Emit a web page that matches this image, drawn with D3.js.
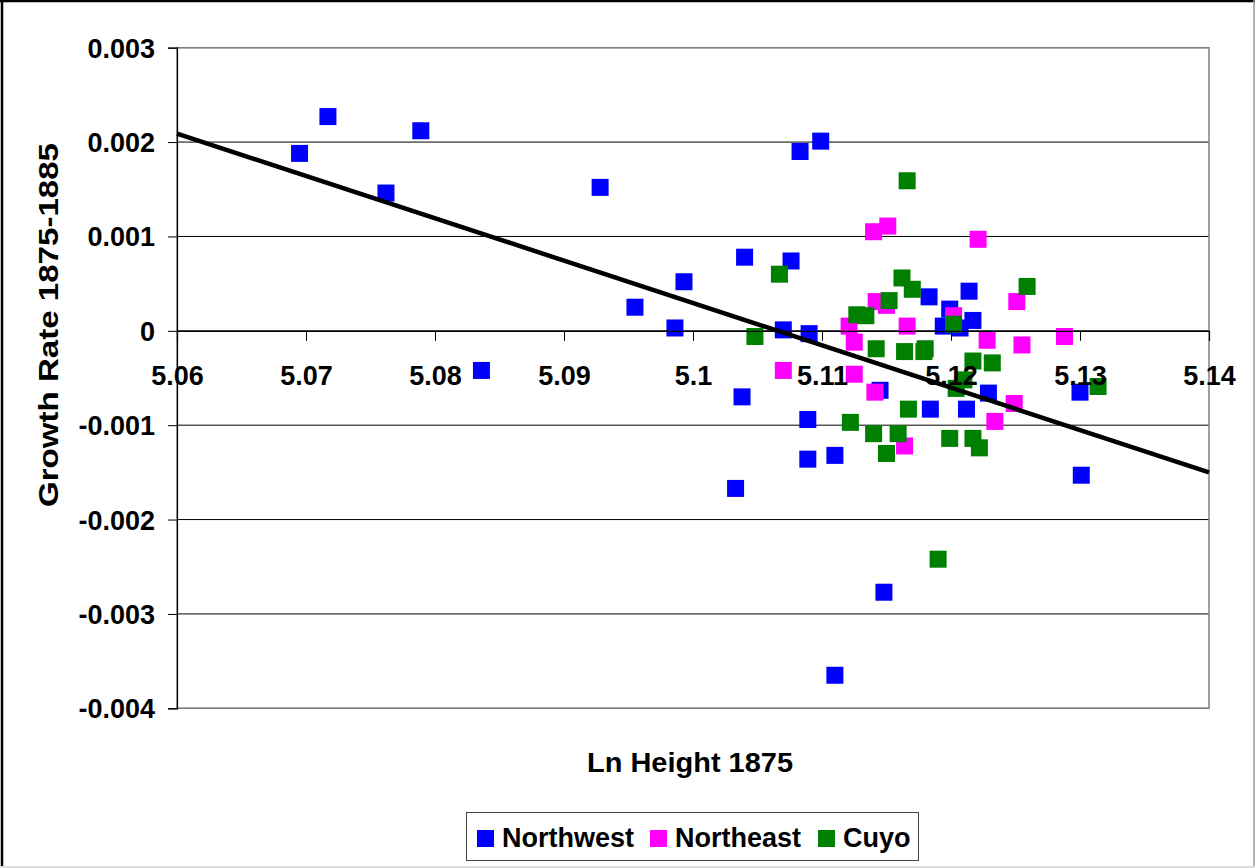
<!DOCTYPE html>
<html>
<head>
<meta charset="utf-8">
<script src="https://cdn.jsdelivr.net/npm/d3@7"></script>
<style>
  body { margin: 0; background: #fff; }
  text { font-family: "Liberation Sans", Arial, sans-serif; font-weight: bold; fill: #000; }
</style>
</head>
<body>
<div id="chart"></div>
<script>
// Ln height 1875 (x) and growth rate 1875-1885 (y)
var nwX = [5.0695, 5.0717, 5.0762, 5.0789, 5.0836, 5.0928, 5.0955, 5.0986, 5.0993, 5.1033,
           5.1038, 5.1040, 5.1070, 5.1076, 5.1083, 5.1089, 5.1089, 5.1090, 5.1099, 5.1110,
           5.1110, 5.1145, 5.1148, 5.1183, 5.1184, 5.1194, 5.1199, 5.1207, 5.1212, 5.1214,
           5.1217, 5.1229, 5.1300, 5.1301];
var nwY = [0.00188, 0.00227, 0.00146, 0.00212, -0.00042, 0.00152, 0.00025, 0.00003, 0.00052, -0.00167,
           -0.00070, 0.00078, 0.00001, 0.00074, 0.00190, -0.00094, -0.00136, -0.00003, 0.00201, -0.00365,
           -0.00132, -0.00063, -0.00277, 0.00036, -0.00083, 0.00005, 0.00023, 0.00003, -0.00083, 0.00042,
           0.00011, -0.00066, -0.00065, -0.00153];

var neX = [5.1070, 5.1121, 5.1125, 5.1125, 5.1140, 5.1141, 5.1142, 5.1150, 5.1151, 5.1164,
           5.1166, 5.1202, 5.1221, 5.1228, 5.1234, 5.1249, 5.1251, 5.1255, 5.1288];
var neY = [-0.00042, 0.00005, -0.00012, -0.00046, 0.00105, -0.00065, 0.00031, 0.00027, 0.00111, -0.00122,
           0.00005, 0.00016, 0.00097, -0.00010, -0.00096, -0.00077, 0.00031, -0.00015, -0.00006];

var cuX = [5.1048, 5.1067, 5.1122, 5.1127, 5.1134, 5.1140, 5.1142, 5.1150, 5.1152, 5.1159,
           5.1162, 5.1164, 5.1166, 5.1167, 5.1170, 5.1179, 5.1180, 5.1190, 5.1199, 5.1202,
           5.1204, 5.1210, 5.1217, 5.1217, 5.1222, 5.1232, 5.1259, 5.1314];
var cuY = [-0.00006, 0.00060, -0.00097, 0.00017, 0.00016, -0.00109, -0.00019, -0.00130, 0.00032, -0.00109,
           0.00056, -0.00022, 0.00159, -0.00083, 0.00044, -0.00022, -0.00019, -0.00242, -0.00114, 0.00007,
           -0.00061, -0.00052, -0.00032, -0.00114, -0.00124, -0.00034, 0.00047, -0.00059];

// linear trend line end points
var trendX = [5.06, 5.14];
var trendY = [0.00209, -0.00150];

var xTicks = [5.06, 5.07, 5.08, 5.09, 5.10, 5.11, 5.12, 5.13, 5.14];
var yTicks = [0.003, 0.002, 0.001, 0, -0.001, -0.002, -0.003, -0.004];

var seriesNames = ["Northwest", "Northeast", "Cuyo"];
var seriesColors = ["#0000ff", "#ff00ff", "#008000"];

var width = 1255, height = 868;
var plot = { left: 177, right: 1209, top: 47.7, bottom: 708.3 };

var svg = d3.select("#chart").append("svg")
  .attr("width", width)
  .attr("height", height);

svg.append("rect").attr("width", width).attr("height", height).attr("fill", "#fff");

// outer frame
svg.append("line").attr("x1", 0).attr("x2", width).attr("y1", 1).attr("y2", 1)
  .attr("stroke", "#000").attr("stroke-width", 2.5);
svg.append("line").attr("x1", 2).attr("x2", 2).attr("y1", 0).attr("y2", height)
  .attr("stroke", "#000").attr("stroke-width", 2.5);
svg.append("line").attr("x1", width - 1).attr("x2", width - 1).attr("y1", 0).attr("y2", height)
  .attr("stroke", "#999").attr("stroke-width", 1.5);
svg.append("line").attr("x1", 0).attr("x2", width).attr("y1", height - 1).attr("y2", height - 1)
  .attr("stroke", "#ddd").attr("stroke-width", 2);

var x = d3.scaleLinear().domain([5.06, 5.14]).range([plot.left, plot.right]);
var y = d3.scaleLinear().domain([-0.004, 0.003]).range([plot.bottom, plot.top]);

// gridlines
svg.append("g")
  .selectAll("line")
  .data(yTicks)
  .enter().append("line")
  .attr("x1", plot.left).attr("x2", plot.right)
  .attr("y1", function (d) { return y(d); })
  .attr("y2", function (d) { return y(d); })
  .attr("stroke", "#000")
  .attr("stroke-width", 1);

// plot border
svg.append("rect")
  .attr("x", plot.left).attr("y", plot.top)
  .attr("width", plot.right - plot.left).attr("height", plot.bottom - plot.top)
  .attr("fill", "none").attr("stroke", "#808080").attr("stroke-width", 1.5);

// y axis
var yAxis = svg.append("g")
  .attr("transform", "translate(" + plot.left + ",0)")
  .call(d3.axisLeft(y).tickValues(yTicks).tickSize(9).tickPadding(13)
    .tickFormat(function (d) { return d === 0 ? "0" : d.toFixed(3); }));
yAxis.select(".domain").attr("stroke", "#000").attr("stroke-width", 1.2);
yAxis.selectAll(".tick line").attr("stroke", "#000");
yAxis.selectAll("text")
  .style("font-size", "27px")
  .attr("dy", "0.35em")
  .attr("font-family", null);

// series markers
var series = [
  { name: seriesNames[0], color: seriesColors[0], xs: nwX, ys: nwY },
  { name: seriesNames[1], color: seriesColors[1], xs: neX, ys: neY },
  { name: seriesNames[2], color: seriesColors[2], xs: cuX, ys: cuY }
];
var ms = 17;
series.forEach(function (s) {
  var pts = s.xs.map(function (v, i) { return [v, s.ys[i]]; });
  svg.append("g")
    .selectAll("rect")
    .data(pts)
    .enter().append("rect")
    .attr("x", function (d) { return x(d[0]) - ms / 2; })
    .attr("y", function (d) { return y(d[1]) - ms / 2; })
    .attr("width", ms)
    .attr("height", ms)
    .attr("fill", s.color);
});

// trend line
svg.append("line")
  .attr("x1", x(trendX[0])).attr("y1", y(trendY[0]))
  .attr("x2", x(trendX[1])).attr("y2", y(trendY[1]))
  .attr("stroke", "#000")
  .attr("stroke-width", 4.5);

// x axis crossing at zero
var xAxis = svg.append("g")
  .attr("transform", "translate(0," + y(0) + ")")
  .call(d3.axisBottom(x).tickValues(xTicks).tickSize(10).tickPadding(25)
    .tickFormat(function (d) { return String(+d.toFixed(2)); }));
xAxis.select(".domain").attr("stroke", "#000").attr("stroke-width", 1.2);
xAxis.selectAll(".tick line").attr("stroke", "#000");
xAxis.selectAll("text")
  .style("font-size", "27px")
  .attr("font-family", null);

// axis titles
svg.append("text")
  .attr("x", 690)
  .attr("y", 772)
  .attr("text-anchor", "middle")
  .attr("textLength", 206)
  .attr("lengthAdjust", "spacingAndGlyphs")
  .style("font-size", "27px")
  .text("Ln Height 1875");

svg.append("text")
  .attr("transform", "translate(58,325) rotate(-90)")
  .attr("text-anchor", "middle")
  .attr("textLength", 364)
  .attr("lengthAdjust", "spacingAndGlyphs")
  .style("font-size", "27px")
  .text("Growth Rate 1875-1885");

// legend
var legend = svg.append("g");
legend.append("rect")
  .attr("x", 466.5).attr("y", 812.5)
  .attr("width", 452).attr("height", 48)
  .attr("fill", "#fff").attr("stroke", "#444").attr("stroke-width", 1);
var legendX = [477, 650, 818];
series.forEach(function (s, i) {
  legend.append("rect")
    .attr("x", legendX[i]).attr("y", 830)
    .attr("width", ms).attr("height", ms)
    .attr("fill", s.color);
  legend.append("text")
    .attr("x", legendX[i] + 25).attr("y", 847)
    .style("font-size", "27px")
    .text(s.name);
});
</script>
</body>
</html>
